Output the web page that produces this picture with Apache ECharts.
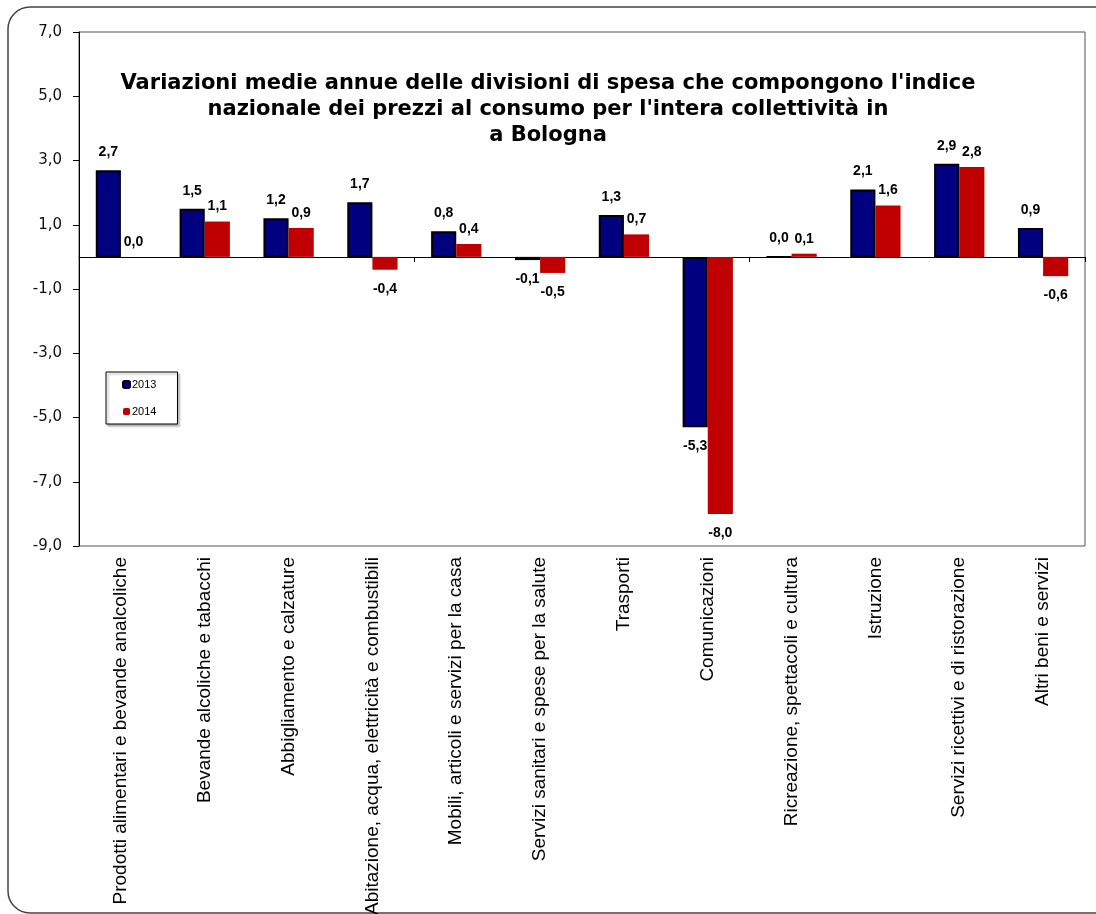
<!DOCTYPE html>
<html>
<head>
<meta charset="utf-8">
<script src="https://cdn.jsdelivr.net/npm/echarts@6/dist/echarts.min.js"></script>
<style>
  html, body { margin: 0; padding: 0; background: #fff; }
  #chart { width: 1096px; height: 914px; }
</style>
</head>
<body>
<div id="chart"></div>
<script>
// Divisioni di spesa (ECOICOP)
const categories = [
  'Prodotti alimentari e bevande analcoliche',
  'Bevande alcoliche e tabacchi',
  'Abbigliamento e calzature',
  'Abitazione, acqua, elettricità e combustibili',
  'Mobili, articoli e servizi per la casa',
  'Servizi sanitari e spese per la salute',
  'Trasporti',
  'Comunicazioni',
  'Ricreazione, spettacoli e cultura',
  'Istruzione',
  'Servizi ricettivi e di ristorazione',
  'Altri beni e servizi'
];

// Variazioni medie annue (%)
const values2013 = [2.7, 1.5, 1.2, 1.7, 0.8, -0.1, 1.3, -5.3, 0.0, 2.1, 2.9, 0.9];
const values2014 = [0.0, 1.1, 0.9, -0.4, 0.4, -0.5, 0.7, -8.0, 0.1, 1.6, 2.8, -0.6];

// Valori delle tacche dell'asse verticale
const yTicks = [-9, -7, -5, -3, -1, 1, 3, 5, 7];

const fmt = v => v.toFixed(1).replace('.', ',');

function buildData(values, distUp, distDown) {
  return values.map(v => ({
    value: v,
    label: v < 0
      ? { position: 'bottom', distance: distDown }
      : { position: 'top', distance: distUp }
  }));
}

const labelStyle = {
  show: true,
  fontFamily: 'Liberation Sans, Arial, sans-serif',
  fontWeight: 'bold',
  fontSize: 14,
  color: '#000',
  formatter: p => fmt(p.value)
};

const chart = echarts.init(document.getElementById('chart'), null, { renderer: 'canvas' });

chart.setOption({
  backgroundColor: '#fff',
  animation: false,
  graphic: [{
    type: 'rect',
    z: -10,
    shape: { x: 8, y: 7, width: 1200, height: 906, r: 22 },
    style: { fill: 'none', stroke: '#444', lineWidth: 1.5 }
  }],
  title: {
    text: "Variazioni medie annue delle divisioni di spesa che compongono l'indice\nnazionale dei prezzi al consumo per l'intera collettività in\na Bologna",
    left: 543,
    top: 66,
    textAlign: 'center',
    textStyle: {
      fontFamily: 'DejaVu Sans, Verdana, sans-serif',
      fontWeight: 'bold',
      fontSize: 21,
      lineHeight: 26,
      color: '#000'
    }
  },
  legend: {
    orient: 'vertical',
    left: 106,
    top: 372,
    itemWidth: 7,
    itemHeight: 7,
    itemGap: 16,
    padding: [7, 21, 7, 16],
    backgroundColor: '#fff',
    borderColor: '#000',
    borderWidth: 1,
    shadowColor: 'rgba(0,0,0,0.3)',
    shadowOffsetX: 2,
    shadowOffsetY: 2,
    shadowBlur: 2,
    textStyle: {
      fontFamily: 'Liberation Sans, Arial, sans-serif',
      fontSize: 11,
      color: '#000',
      padding: [0, 0, 0, -3]
    },
    data: ['2013', '2014']
  },
  grid: {
    left: 79,
    right: 11,
    top: 32,
    bottom: 368,
    show: true,
    borderColor: '#555',
    borderWidth: 1,
    containLabel: false,
    outerBoundsMode: 'none'
  },
  xAxis: [{
    type: 'category',
    data: categories,
    position: 'bottom',
    axisLine: { show: true, onZero: true, lineStyle: { color: '#000', width: 1 } },
    axisTick: { show: true, length: 5, lineStyle: { color: '#000' } },
    axisLabel: { show: false },
    splitLine: { show: false }
  }, {
    type: 'category',
    data: categories,
    position: 'bottom',
    axisLine: { show: false, onZero: false },
    axisTick: { show: false },
    axisLabel: {
      show: true,
      interval: 0,
      rotate: 90,
      margin: 11,
      fontFamily: 'Liberation Sans, Arial, sans-serif',
      fontSize: 19,
      color: '#000'
    },
    splitLine: { show: false }
  }],
  yAxis: {
    type: 'value',
    min: -9,
    max: 7,
    axisLine: { show: true, lineStyle: { color: '#000', width: 1 } },
    axisTick: { show: true, length: 6, customValues: yTicks, lineStyle: { color: '#000' } },
    axisLabel: {
      show: true,
      customValues: yTicks,
      margin: 17,
      fontFamily: 'DejaVu Sans, Verdana, sans-serif',
      fontSize: 15,
      color: '#111',
      formatter: v => fmt(v)
    },
    splitLine: { show: false }
  },
  series: [{
    name: '2013',
    type: 'bar',
    xAxisIndex: 0,
    barGap: '0%',
    barCategoryGap: '40%',
    itemStyle: { color: '#000080', borderColor: '#000', borderWidth: 2 },
    label: labelStyle,
    data: buildData(values2013, 11, 12)
  }, {
    name: '2014',
    type: 'bar',
    xAxisIndex: 0,
    barGap: '0%',
    barCategoryGap: '40%',
    itemStyle: { color: '#C00000' },
    label: labelStyle,
    data: buildData(values2014, 8, 12)
  }]
});
</script>
</body>
</html>
